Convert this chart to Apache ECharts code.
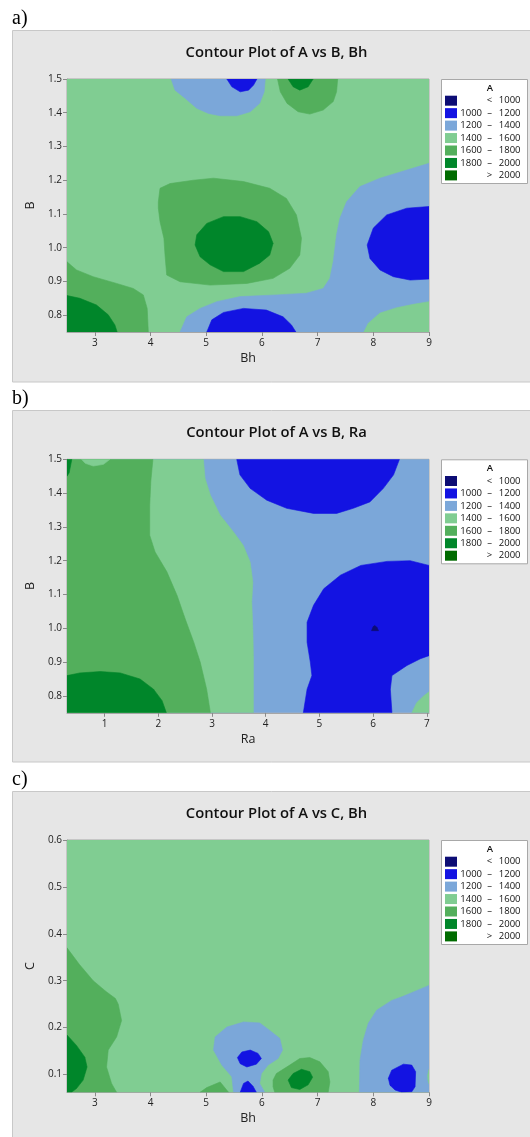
<!DOCTYPE html>
<html><head><meta charset="utf-8">
<script src="https://cdn.jsdelivr.net/npm/echarts@6/dist/echarts.min.js"></script>
<style>html,body{margin:0;padding:0;background:#fff}#c{width:530px;height:1137px}</style>
</head><body><div id="c"></div>
<script>
// ---- legend levels ----
const levelLow  = ['', '1000', '1200', '1400', '1600', '1800', ''];
const levelSign = ['<', '–', '–', '–', '–', '–', '>'];
const levelHigh = ['1000', '1200', '1400', '1600', '1800', '2000', '2000'];
const levelColors = ['#0d0d75', '#1313e2', '#7ba7d9', '#80cd92', '#53af5c', '#00862a', '#006b00'];

// ---- axes ----
const rangeBh = [2.5, 9];
const rangeRa = [0.3, 7.04];
const rangeB = [0.75, 1.5];
const rangeC = [0.062, 0.6];
const ticksBh = [3, 4, 5, 6, 7, 8, 9];
const ticksRa = [1, 2, 3, 4, 5, 6, 7];
const ticksB = [0.8, 0.9, 1.0, 1.1, 1.2, 1.3, 1.4, 1.5];
const ticksC = [0.1, 0.2, 0.3, 0.4, 0.5, 0.6];

// ---- contour regions: [level index, polygon in data units] (painted in order) ----
const regionsA = [
  [3, [[2.5,0.75],[9,0.75],[9,1.5],[2.5,1.5]]],
  [2, [[4.37,1.5],[4.44,1.467],[4.62,1.443],[4.83,1.413],[5.04,1.398],[5.25,1.391],[5.55,1.391],[5.79,1.403],[5.96,1.428],[6.04,1.462],[6.06,1.5]]],
  [1, [[5.37,1.5],[5.46,1.477],[5.61,1.462],[5.76,1.467],[5.85,1.482],[5.91,1.5]]],
  [4, [[6.28,1.5],[6.33,1.462],[6.45,1.428],[6.65,1.403],[6.86,1.396],[7.1,1.408],[7.28,1.433],[7.34,1.462],[7.36,1.5]]],
  [5, [[6.47,1.5],[6.56,1.477],[6.68,1.467],[6.83,1.477],[6.92,1.5]]],
  [4, [[4.14,1.136],[4.17,1.176],[4.35,1.19],[4.77,1.2],[5.13,1.206],[5.67,1.196],[6.14,1.176],[6.44,1.146],[6.62,1.097],[6.71,1.028],[6.68,0.978],[6.5,0.939],[6.2,0.909],[5.73,0.894],[5.07,0.889],[4.53,0.899],[4.29,0.919],[4.26,0.978],[4.24,1.028],[4.17,1.077],[4.14,1.117]]],
  [5, [[4.8,1.008],[4.83,1.038],[5.01,1.072],[5.31,1.092],[5.61,1.092],[5.91,1.077],[6.12,1.047],[6.2,1.013],[6.14,0.978],[5.96,0.954],[5.67,0.929],[5.31,0.929],[5.07,0.949],[4.89,0.973]]],
  [2, [[9,1.25],[8.6,1.23],[8.12,1.206],[7.76,1.181],[7.52,1.136],[7.4,1.087],[7.34,1.038],[7.28,0.958],[7.22,0.909],[7.1,0.879],[6.8,0.865],[6.26,0.86],[5.61,0.855],[5.19,0.84],[4.89,0.82],[4.65,0.795],[4.53,0.75],[9,0.75]]],
  [1, [[9,1.122],[8.6,1.117],[8.24,1.097],[8.0,1.058],[7.89,1.008],[7.94,0.968],[8.12,0.934],[8.36,0.914],[8.66,0.904],[9,0.907]]],
  [1, [[5.01,0.75],[5.1,0.786],[5.31,0.808],[5.67,0.82],[6.08,0.815],[6.38,0.795],[6.53,0.771],[6.61,0.75]]],
  [3, [[7.83,0.75],[7.91,0.776],[8.12,0.806],[8.42,0.822],[8.72,0.832],[9,0.84],[9,0.75]]],
  [4, [[2.5,0.958],[2.67,0.934],[2.97,0.914],[3.39,0.894],[3.69,0.879],[3.87,0.86],[3.94,0.82],[3.96,0.75],[2.5,0.75]]],
  [5, [[2.5,0.858],[2.73,0.85],[3.03,0.83],[3.24,0.801],[3.36,0.771],[3.4,0.75],[2.5,0.75]]]
];

const regionsB = [
  [2, [[0.3,0.75],[7.04,0.75],[7.04,1.5],[0.3,1.5]]],
  [3, [[0.3,1.5],[2.84,1.5],[2.87,1.444],[2.97,1.394],[3.15,1.335],[3.4,1.285],[3.58,1.246],[3.71,1.196],[3.76,1.137],[3.74,1.078],[3.76,0.998],[3.77,0.919],[3.77,0.75],[0.3,0.75]]],
  [4, [[0.3,1.5],[1.9,1.5],[1.86,1.434],[1.84,1.364],[1.84,1.275],[1.94,1.226],[2.16,1.167],[2.35,1.097],[2.5,1.028],[2.66,0.959],[2.78,0.9],[2.9,0.82],[2.97,0.75],[0.3,0.75]]],
  [3, [[0.57,1.5],[0.64,1.488],[0.79,1.48],[0.98,1.485],[1.1,1.5]]],
  [5, [[0.3,1.5],[0.39,1.5],[0.34,1.46],[0.3,1.45]]],
  [5, [[0.3,0.86],[0.54,0.868],[0.92,0.872],[1.29,0.868],[1.66,0.85],[1.91,0.82],[2.07,0.786],[2.15,0.75],[0.3,0.75]]],
  [1, [[3.46,1.5],[3.52,1.454],[3.71,1.414],[4.02,1.379],[4.39,1.355],[4.89,1.34],[5.32,1.34],[5.63,1.355],[5.94,1.374],[6.19,1.414],[6.38,1.454],[6.49,1.5]]],
  [1, [[7.04,1.186],[6.69,1.2],[6.26,1.198],[5.77,1.186],[5.39,1.157],[5.08,1.117],[4.89,1.068],[4.77,1.018],[4.77,0.959],[4.83,0.9],[4.86,0.86],[4.77,0.82],[4.7,0.75],[6.35,0.75],[6.32,0.82],[6.35,0.86],[6.63,0.89],[6.88,0.91],[7.04,0.919]]],
  [3, [[6.72,0.75],[6.81,0.78],[6.94,0.8],[7.04,0.812],[7.04,0.75]]],
  [0, [[5.97,0.993],[6.0,1.005],[6.03,1.008],[6.07,1.003],[6.1,0.993]]]
];

const regionsC = [
  [3, [[2.5,0.062],[9,0.062],[9,0.6],[2.5,0.6]]],
  [4, [[2.5,0.37],[2.72,0.335],[2.97,0.3],[3.2,0.277],[3.37,0.262],[3.42,0.25],[3.48,0.215],[3.39,0.18],[3.24,0.152],[3.21,0.116],[3.3,0.081],[3.39,0.062],[2.5,0.062]]],
  [5, [[2.5,0.184],[2.67,0.162],[2.82,0.137],[2.86,0.116],[2.79,0.088],[2.67,0.07],[2.58,0.062],[2.5,0.062]]],
  [4, [[4.89,0.062],[5.01,0.072],[5.25,0.084],[5.4,0.062]]],
  [2, [[5.49,0.062],[5.46,0.095],[5.28,0.12],[5.13,0.152],[5.16,0.18],[5.37,0.201],[5.67,0.212],[5.96,0.21],[6.14,0.194],[6.32,0.177],[6.37,0.152],[6.29,0.134],[6.11,0.12],[5.99,0.102],[5.96,0.081],[6.05,0.062]]],
  [1, [[5.56,0.136],[5.64,0.148],[5.79,0.152],[5.93,0.145],[5.99,0.134],[5.9,0.122],[5.73,0.116],[5.61,0.123]]],
  [1, [[5.61,0.062],[5.67,0.081],[5.75,0.086],[5.84,0.075],[5.9,0.062]]],
  [4, [[6.2,0.088],[6.26,0.102],[6.5,0.12],[6.68,0.134],[6.86,0.136],[7.04,0.127],[7.19,0.106],[7.22,0.084],[7.19,0.062],[6.23,0.062],[6.2,0.074]]],
  [5, [[6.47,0.088],[6.56,0.102],[6.71,0.111],[6.86,0.106],[6.91,0.094],[6.83,0.078],[6.68,0.068],[6.53,0.072]]],
  [2, [[9,0.29],[8.7,0.275],[8.5,0.265],[8.33,0.258],[8.06,0.237],[7.91,0.209],[7.82,0.173],[7.76,0.13],[7.75,0.062],[9,0.062]]],
  [1, [[8.27,0.092],[8.33,0.109],[8.54,0.122],[8.69,0.12],[8.76,0.106],[8.75,0.074],[8.69,0.063],[8.51,0.062],[8.39,0.067],[8.3,0.077]]],
  [3, [[9,0.111],[8.975,0.098],[8.98,0.088],[9,0.08]]]
];

const panelLabels = ['a)', 'b)', 'c)'];
const titles = ['Contour Plot of A vs B, Bh', 'Contour Plot of A vs B, Ra', 'Contour Plot of A vs C, Bh'];
const xNames = ['Bh', 'Ra', 'Bh'];
const yNames = ['B', 'B', 'C'];
const xRanges = [rangeBh, rangeRa, rangeBh];
const yRanges = [rangeB, rangeB, rangeC];
const xTicks = [ticksBh, ticksRa, ticksBh];
const yTicks = [ticksB, ticksB, ticksC];
const regions = [regionsA, regionsB, regionsC];

// ---- layout (pixels) ----
const panelTop = [30, 410, 791];
const gridTop = [79, 459.3, 840];
const gridH = [253, 253.5, 252.3];
const gridLeft = 67, gridW = 362;

const FONT = 'Open Sans';
const chart = echarts.init(document.getElementById('c'), null, {renderer: 'canvas'});

const grids = [], xAxes = [], yAxes = [], series = [], graphics = [];
for (let i = 0; i < 3; i++) {
  const pt = panelTop[i], gt = gridTop[i];
  graphics.push({type: 'rect', z: -10, silent: true,
    shape: {x: 12.5, y: pt + 0.5, width: 540, height: 351.5},
    style: {fill: '#e6e6e6', stroke: '#c8c8c8', lineWidth: 1}});
  graphics.push({type: 'text', silent: true, x: 12, y: pt - 11,
    style: {text: panelLabels[i], font: '20px "Liberation Serif"', fill: '#000', textVerticalAlign: 'middle'}});
  graphics.push({type: 'text', silent: true, x: 276.5, y: pt + 23,
    style: {text: titles[i], font: '600 14.8px "Open Sans"', fill: '#111', textAlign: 'center', textVerticalAlign: 'middle'}});
  // legend
  graphics.push({type: 'rect', silent: true, shape: {x: 441.5, y: gt + 0.5, width: 86, height: 104},
    style: {fill: '#fff', stroke: '#a8a8a8', lineWidth: 1}});
  graphics.push({type: 'text', silent: true, x: 490, y: gt + 9,
    style: {text: 'A', font: '600 9.5px "Open Sans"', fill: '#111', textAlign: 'center', textVerticalAlign: 'middle'}});
  for (let k = 0; k < levelColors.length; k++) {
    const cy = gt + 21.7 + k * 12.45;
    graphics.push({type: 'rect', silent: true, shape: {x: 445, y: cy - 5, width: 12, height: 10}, style: {fill: levelColors[k]}});
    if (levelLow[k]) graphics.push({type: 'text', silent: true, x: 482, y: cy,
      style: {text: levelLow[k], font: '9.5px "Open Sans"', fill: '#111', textAlign: 'right', textVerticalAlign: 'middle'}});
    graphics.push({type: 'text', silent: true, x: 489.5, y: cy,
      style: {text: levelSign[k], font: '9.5px "Open Sans"', fill: '#111', textAlign: 'center', textVerticalAlign: 'middle'}});
    graphics.push({type: 'text', silent: true, x: 520.5, y: cy,
      style: {text: levelHigh[k], font: '9.5px "Open Sans"', fill: '#111', textAlign: 'right', textVerticalAlign: 'middle'}});
  }

  grids.push({left: gridLeft, top: gt, width: gridW, height: gridH[i], show: true,
    borderColor: '#a6a6a6', borderWidth: 1, backgroundColor: 'transparent', containLabel: false});
  const tickStyle = {show: true, length: 4, lineStyle: {color: '#8a8a8a', width: 1}};
  xAxes.push({type: 'value', gridIndex: i, min: xRanges[i][0], max: xRanges[i][1],
    name: xNames[i], nameLocation: 'middle', nameGap: 20,
    nameTextStyle: {fontFamily: FONT, fontSize: 12.5, color: '#222'},
    axisLine: {show: true, lineStyle: {color: '#a6a6a6'}},
    axisTick: Object.assign({customValues: xTicks[i]}, tickStyle),
    axisLabel: {customValues: xTicks[i], fontFamily: FONT, fontSize: 10, color: '#222', margin: 6, formatter: v => String(Math.round(v))},
    splitLine: {show: false}});
  yAxes.push({type: 'value', gridIndex: i, min: yRanges[i][0], max: yRanges[i][1],
    name: yNames[i], nameLocation: 'middle', nameGap: 27,
    nameTextStyle: {fontFamily: FONT, fontSize: 12.5, color: '#222'},
    axisLine: {show: true, lineStyle: {color: '#a6a6a6'}},
    axisTick: Object.assign({customValues: yTicks[i]}, tickStyle),
    axisLabel: {customValues: yTicks[i], fontFamily: FONT, fontSize: 10, color: '#222', margin: 5, formatter: v => v.toFixed(1)},
    splitLine: {show: false}});
  const regs = regions[i];
  series.push({type: 'custom', xAxisIndex: i, yAxisIndex: i, clip: true, silent: true, animation: false,
    data: regs.map((r, j) => [r[1][0][0], r[1][0][1], j]),
    renderItem: function (params, api) {
      const r = regs[params.dataIndex];
      const pts = r[1].map(p => api.coord(p));
      const col = levelColors[r[0]];
      return {type: 'polygon', shape: {points: pts}, style: {fill: col, stroke: col, lineWidth: 0.6}};
    }});
}

chart.setOption({
  animation: false,
  backgroundColor: '#fff',
  grid: grids, xAxis: xAxes, yAxis: yAxes, series: series,
  graphic: graphics
});
</script></body></html>
